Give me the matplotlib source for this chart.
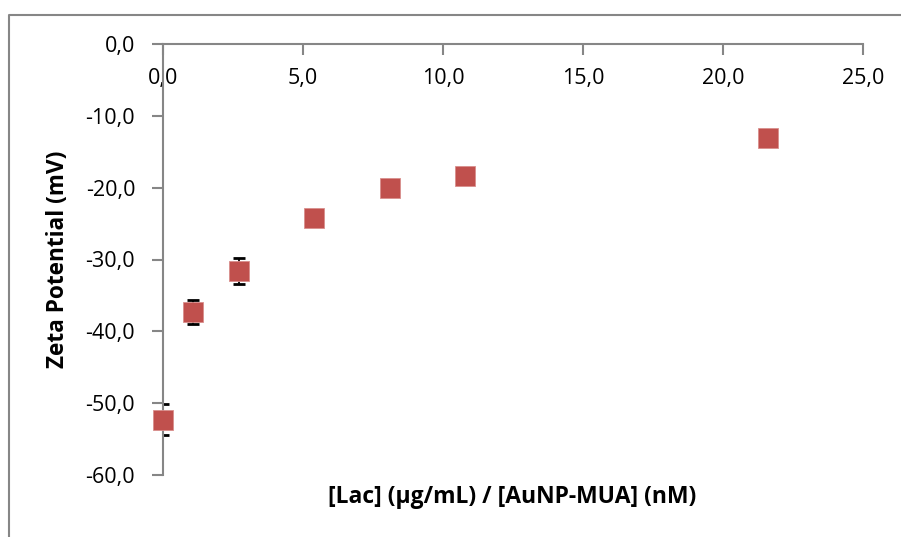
import matplotlib.pyplot as plt
from matplotlib.lines import Line2D
from matplotlib.ticker import FuncFormatter

# ratio [Lac]/[AuNP-MUA] and zeta potential with error
ratio = [0.0, 1.08, 2.7, 5.4, 8.1, 10.8, 21.6]
zeta = [-52.3, -37.3, -31.6, -24.2, -20.0, -18.4, -13.1]
zeta_err = [2.2, 1.65, 1.8, 0.4, 0.5, 0.4, 0.7]

xticks = [0, 5, 10, 15, 20, 25]
yticks = [0, -10, -20, -30, -40, -50, -60]

plt.rcParams['font.family'] = ['Open Sans', 'DejaVu Sans']
grey = '#868686'

fig = plt.figure(figsize=(9.01, 5.37), dpi=100)
ax = fig.add_axes([163 / 901, 1 - 475 / 537, 700 / 901, 431 / 537])

# error bars are clipped to the plot area, like in the original
ax.errorbar(ratio, zeta, yerr=zeta_err, fmt='none', ecolor='black',
            elinewidth=1.3, capsize=4.5, capthick=2, zorder=2)
ax.plot(ratio, zeta, linestyle='none', marker='s', markersize=14.5,
        markerfacecolor='#C0504D', markeredgecolor='#D98E8C',
        markeredgewidth=0.6, zorder=3, clip_on=False)

ax.set_xlim(0, 25)
ax.set_ylim(-60, 0)
ax.set_xticks(xticks)
ax.set_yticks(yticks)
fmt = FuncFormatter(lambda v, p: f'{v:.1f}'.replace('.', ','))
ax.xaxis.set_major_formatter(fmt)
ax.yaxis.set_major_formatter(fmt)

for s in ['top', 'right']:
    ax.spines[s].set_visible(False)
ax.spines['bottom'].set_position(('data', 0))
for s in ['left', 'bottom']:
    ax.spines[s].set_color(grey)
    ax.spines[s].set_linewidth(1.5)

ax.tick_params(axis='both', direction='out', length=8, width=1.5,
               color=grey, labelsize=15.5, labelcolor='black')
ax.tick_params(axis='x', pad=9)
ax.tick_params(axis='y', pad=12)

ax.set_ylabel('Zeta Potential (mV)', fontsize=16.3, fontweight='bold')
ax.yaxis.set_label_coords(-93 / 700, (475 - 259) / 431)
fig.text(512 / 901, 1 - 497 / 537, '[Lac] (µg/mL) / [AuNP-MUA] (nM)',
         fontsize=16.5, fontweight='bold', ha='center', va='center')

# outer chart frame (left and top edges)
fig.add_artist(Line2D([9 / 901, 9 / 901, 1], [0, 1 - 15 / 537, 1 - 15 / 537],
                      color=grey, linewidth=1.5, transform=fig.transFigure))

fig.savefig('out.png', dpi=100)
